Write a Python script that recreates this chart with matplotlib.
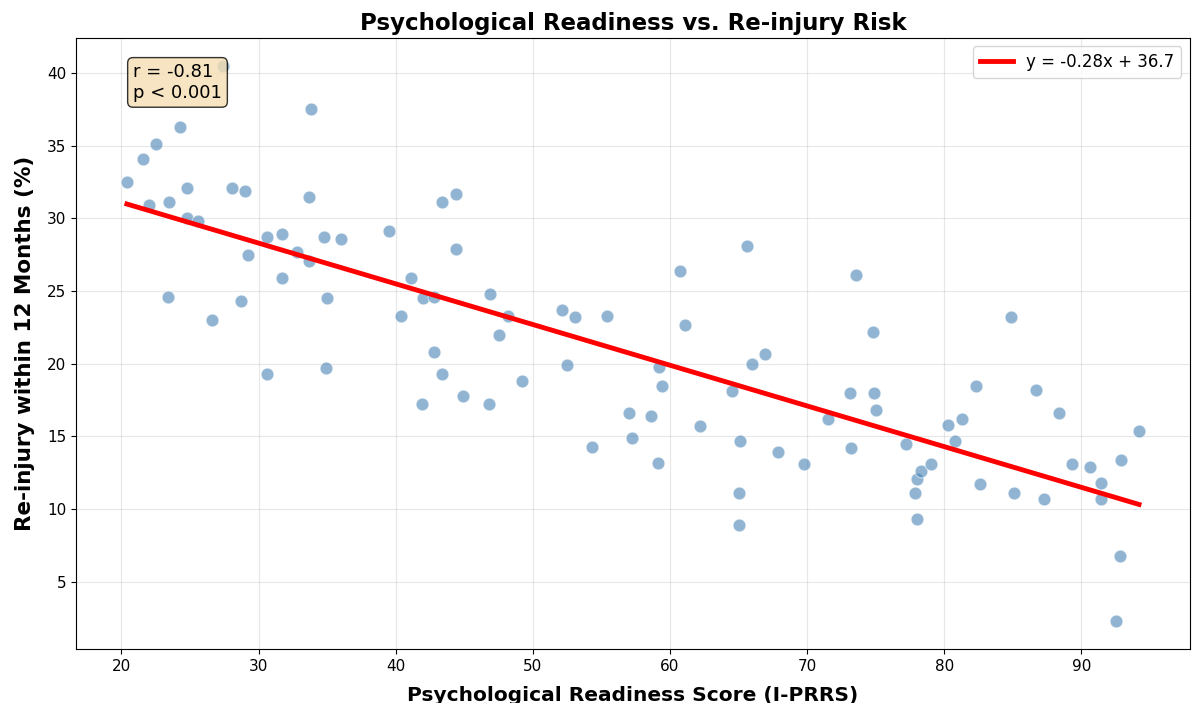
#!/usr/bin/env python

import matplotlib
matplotlib.use('Agg')
import matplotlib.pyplot as plt
import numpy as np

# readiness score (x) and re-injury rate (y)
readiness = [20.4, 21.6, 22.0, 22.5, 23.5, 23.4, 24.3, 24.8, 24.8, 25.6,
             26.6, 28.1, 29.0, 29.2, 28.7, 30.6, 30.6, 31.7, 31.7, 32.8,
             33.8, 33.7, 33.7, 34.8, 35.0, 34.9, 36.0, 39.5, 40.4, 41.1,
             42.0, 41.9, 42.8, 42.8, 43.4, 43.4, 44.4, 44.4, 44.9, 46.9,
             46.8, 47.5, 48.2, 49.2, 52.1, 52.5, 53.1, 54.3, 55.4, 57.0,
             57.2, 58.6, 59.1, 59.2, 59.4, 60.7, 61.1, 62.2, 64.5, 65.0,
             65.1, 65.0, 65.6, 66.0, 66.9, 67.9, 69.8, 71.5, 73.1, 73.2,
             73.6, 74.8, 74.9, 75.0, 77.2, 78.0, 78.3, 77.9, 78.0, 79.0,
             80.3, 80.8, 81.3, 82.3, 82.6, 84.9, 85.1, 86.7, 87.3, 88.4,
             89.3, 90.6, 91.4, 91.4, 92.9, 92.8, 92.5, 94.2, 27.4]
reinjury = [32.5, 34.1, 30.9, 35.1, 31.1, 24.6, 36.3, 32.1, 30.0, 29.8,
            23.0, 32.1, 31.9, 27.5, 24.3, 28.7, 19.3, 28.9, 25.9, 27.7,
            37.5, 31.5, 27.1, 28.7, 24.5, 19.7, 28.6, 29.1, 23.3, 25.9,
            24.5, 17.2, 24.6, 20.8, 31.1, 19.3, 31.7, 27.9, 17.8, 24.8,
            17.2, 22.0, 23.3, 18.8, 23.7, 19.9, 23.2, 14.3, 23.3, 16.6,
            14.9, 16.4, 13.2, 19.8, 18.5, 26.4, 22.7, 15.7, 18.1, 11.1,
            14.7, 8.9, 28.1, 20.0, 20.7, 13.9, 13.1, 16.2, 18.0, 14.2,
            26.1, 22.2, 18.0, 16.8, 14.5, 12.1, 12.6, 11.1, 9.3, 13.1,
            15.8, 14.7, 16.2, 18.5, 11.7, 23.2, 11.1, 18.2, 10.7, 16.6,
            13.1, 12.9, 11.8, 10.7, 13.4, 6.8, 2.3, 15.4, 40.5]

slope = -0.28
intercept = 36.7
r_value = -0.81

x = np.array(readiness)
y = np.array(reinjury)

fig = plt.figure(figsize=(11.92, 7.03), dpi=100)
ax = fig.add_axes([0.064, 0.077, 0.934, 0.869])

ax.scatter(x, y, s=85, color='steelblue', alpha=0.6, edgecolors='white', linewidths=0.8, zorder=2)

x_fit = np.linspace(x.min(), x.max(), 100)
ax.plot(x_fit, slope * x_fit + intercept, color='red', lw=3.5, zorder=3,
        label='y = %.2fx + %.1f' % (slope, intercept))

# stats box sits over the top-left points
ax.text(0.051, 0.959, 'r = %.2f\np < 0.001' % r_value, transform=ax.transAxes,
        fontsize=13, va='top', ha='left', zorder=5,
        bbox=dict(boxstyle='round', facecolor='wheat', alpha=0.8))

ax.set_title('Psychological Readiness vs. Re-injury Risk', fontsize=16.5, fontweight='bold')
ax.set_xlabel('Psychological Readiness Score (I-PRRS)', fontsize=14.5, fontweight='bold', labelpad=9)
ax.set_ylabel('Re-injury within 12 Months (%)', fontsize=15.5, fontweight='bold', labelpad=9)
ax.tick_params(labelsize=11)
ax.grid(True, alpha=0.3)
ax.legend(loc='upper right', fontsize=12)

plt.savefig('out.png', dpi=100)
